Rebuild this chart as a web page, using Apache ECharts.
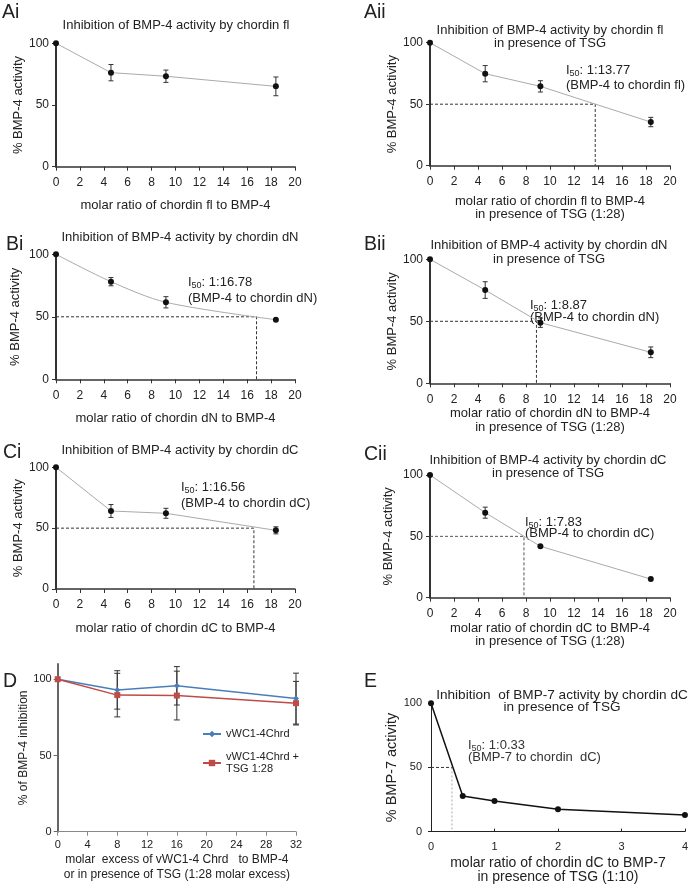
<!DOCTYPE html>
<html><head><meta charset="utf-8">
<script src="https://cdn.jsdelivr.net/npm/echarts@6/dist/echarts.min.js"></script>
<style>html,body{margin:0;padding:0;background:#fff}#c{width:691px;height:893px}</style>
</head><body><div id="c"></div>
<script>
// ---------- data ----------
const ratios = [0, 4.6, 9.2, 18.4];
const aiValues = [100, 76.2, 73.3, 65.1];
const aiErrors = [0, 6.6, 5.0, 7.6];
const aiiValues = [100, 74.8, 64.5, 35.5];
const aiiErrors = [0, 6.6, 4.6, 3.8];
const aiiI50 = 13.77;
const biValues = [100, 78.1, 61.6, 47.7];
const biErrors = [0, 3.3, 4.5, 0];
const biI50 = 16.78;
const biiValues = [100, 75.2, 48.9, 25.0];
const biiErrors = [0, 6.7, 3.8, 4.3];
const biiI50 = 8.87;
const ciValues = [100, 64.1, 62.2, 48.2];
const ciErrors = [0, 5.3, 4.1, 2.9];
const ciI50 = 16.56;
const ciiValues = [100, 69.3, 41.9, 15.2];
const ciiErrors = [0, 4.5, 0, 0];
const ciiI50 = 7.83;
const dExcess = [0, 8, 16, 32];
const dChrd = [100, 93.0, 95.7, 87.3];
const dChrdErr = [0, 12.6, 12.6, 16.7];
const dChrdTsg = [100, 89.6, 89.3, 84.3];
const dChrdTsgErr = [0, 14.3, 16.0, 14.3];
const eRatios = [0, 0.5, 1, 2, 4];
const eValues = [100, 27.8, 23.9, 17.4, 13.0];
const eI50 = 0.33;
const ratioTicks = [0, 2, 4, 6, 8, 10, 12, 14, 16, 18, 20];
const activityTicks = [0, 50, 100];
const excessTicks = [0, 4, 8, 12, 16, 20, 24, 28, 32];
const eTicks = [0, 1, 2, 3, 4];

// ---------- helpers ----------
const FF = "'Liberation Sans', Arial, sans-serif";
const TXT = '#222';
const pts = (xs, ys) => xs.map((x, i) => [x, ys[i]]);
const errPts = (xs, ys, es) => xs.map((x, i) => [x, ys[i], es[i]]).filter(d => d[2] > 0);

function errSeries(gi, data, color, capW) {
  return {
    type: 'custom', xAxisIndex: gi, yAxisIndex: gi, z: 2, silent: true,
    encode: { x: 0, y: 1 },
    data: data,
    renderItem: function (params, api) {
      const x = api.value(0), y = api.value(1), e = api.value(2);
      const t = api.coord([x, y + e]), b = api.coord([x, y - e]);
      const st = { stroke: color, lineWidth: 1 };
      return { type: 'group', children: [
        { type: 'line', shape: { x1: t[0], y1: t[1], x2: b[0], y2: b[1] }, style: st },
        { type: 'line', shape: { x1: t[0] - capW, y1: t[1], x2: t[0] + capW, y2: t[1] }, style: st },
        { type: 'line', shape: { x1: b[0] - capW, y1: b[1], x2: b[0] + capW, y2: b[1] }, style: st }
      ] };
    }
  };
}
function mainLine(gi, data, smooth) {
  return {
    type: 'line', xAxisIndex: gi, yAxisIndex: gi, data: data, z: 3,
    symbol: 'circle', symbolSize: 6, smooth: smooth || false,
    itemStyle: { color: '#111' }, lineStyle: { color: '#aaa', width: 1 },
    animation: false
  };
}
function i50Series(gi, x50, color) {
  return {
    type: 'line', xAxisIndex: gi, yAxisIndex: gi, z: 1, symbol: 'none',
    data: [[0, 50], [x50, 50], [x50, 0]],
    lineStyle: { color: color || '#333', width: 1, type: [3, 2] }, animation: false
  };
}
function xAxisA(gi, name, gap) {
  return {
    type: 'value', gridIndex: gi, min: ratioTicks[0], max: ratioTicks[ratioTicks.length - 1],
    interval: ratioTicks[1] - ratioTicks[0],
    axisLine: { show: true, lineStyle: { color: '#333', width: 1.5 } },
    axisTick: { show: true, length: 4, lineStyle: { color: '#333', width: 1 } },
    axisLabel: { fontSize: 12, color: TXT, margin: 10, fontFamily: FF },
    splitLine: { show: false },
    name: name, nameLocation: 'middle', nameGap: gap,
    nameTextStyle: { fontSize: 13, color: TXT, lineHeight: 13.5, fontFamily: FF }
  };
}
function yAxisA(gi, name, gap) {
  return {
    type: 'value', gridIndex: gi, min: activityTicks[0], max: activityTicks[activityTicks.length - 1],
    interval: activityTicks[1] - activityTicks[0],
    axisLine: { show: true, lineStyle: { color: '#333', width: 2 } },
    axisTick: { show: true, length: 4, lineStyle: { color: '#333', width: 1 } },
    axisLabel: { fontSize: 12, color: TXT, margin: 7, fontFamily: FF },
    splitLine: { show: false },
    name: name, nameLocation: 'middle', nameGap: gap,
    nameTextStyle: { fontSize: 13, color: TXT, fontFamily: FF }
  };
}
function txt(x, y, text, opt) {
  opt = opt || {};
  return {
    type: 'text', x: x, y: y, silent: true,
    style: {
      text: text, fill: opt.fill || TXT,
      font: (opt.size || 13) + 'px ' + FF,
      textAlign: opt.align || 'left', textVerticalAlign: opt.va || 'middle',
      lineHeight: opt.lh || 14
    }
  };
}
// I50 annotation: first line (with subscript) centred at y1, second line centred at y2
function i50Text(x, y1, y2, val, second, fill) {
  const f = fill || TXT;
  return [
    {
      type: 'text', x: x, y: y1, silent: true,
      style: {
        text: '{a|I}{s|50}{a|: ' + val + '}',
        textAlign: 'left', textVerticalAlign: 'middle',
        rich: {
          a: { font: '13px ' + FF, fill: f, lineHeight: 16 },
          s: { font: '9px ' + FF, fill: f, lineHeight: 16, verticalAlign: 'bottom' }
        }
      }
    },
    txt(x, y2, second, { fill: f })
  ];
}

const grids = [
  { left: 56, top: 43.3, width: 239, height: 123.4 },
  { left: 430, top: 42.7, width: 240, height: 123 },
  { left: 56, top: 254.3, width: 239, height: 125 },
  { left: 430, top: 259.3, width: 240, height: 124 },
  { left: 56, top: 467.3, width: 239, height: 121.7 },
  { left: 430, top: 475, width: 240, height: 122.7 },
  { left: 57.7, top: 664, width: 238.3, height: 167.7 },
  { left: 431, top: 703.3, width: 254.7, height: 128.3 }
];

const xAxes = [
  xAxisA(0, 'molar ratio of chordin fl to BMP-4', 31.5),
  xAxisA(1, 'molar ratio of chordin fl to BMP-4\nin presence of TSG (1:28)', 28.5),
  xAxisA(2, 'molar ratio of chordin dN to BMP-4', 32),
  xAxisA(3, 'molar ratio of chordin dN to BMP-4\nin presence of TSG (1:28)', 23.5),
  xAxisA(4, 'molar ratio of chordin dC to BMP-4', 32.5),
  xAxisA(5, 'molar ratio of chordin dC to BMP-4\nin presence of TSG (1:28)', 23.5),
  {
    type: 'value', gridIndex: 6, min: excessTicks[0], max: excessTicks[excessTicks.length - 1],
    interval: excessTicks[1] - excessTicks[0],
    axisLine: { show: true, lineStyle: { color: '#888', width: 1 } },
    axisTick: { show: true, length: 4, lineStyle: { color: '#888' } },
    axisLabel: { fontSize: 11, color: TXT, margin: 8, fontFamily: FF },
    splitLine: { show: false },
    name: 'molar  excess of vWC1-4 Chrd   to BMP-4\nor in presence of TSG (1:28 molar excess)',
    nameLocation: 'middle', nameGap: 20,
    nameTextStyle: { fontSize: 12, color: TXT, lineHeight: 15, fontFamily: FF }
  },
  {
    type: 'value', gridIndex: 7, min: eTicks[0], max: eTicks[eTicks.length - 1],
    interval: eTicks[1] - eTicks[0],
    axisLine: { show: true, lineStyle: { color: '#222', width: 1 } },
    axisTick: { show: true, inside: true, length: 3, lineStyle: { color: '#222' } },
    axisLabel: { fontSize: 11, color: TXT, margin: 10, fontFamily: FF },
    splitLine: { show: false },
    name: 'molar ratio of chordin dC to BMP-7\nin presence of TSG (1:10)',
    nameLocation: 'middle', nameGap: 25,
    nameTextStyle: { fontSize: 14, color: TXT, lineHeight: 14, fontFamily: FF }
  }
];
const yAxes = [
  yAxisA(0, '% BMP-4 activity', 29),
  yAxisA(1, '% BMP-4 activity', 31.5),
  yAxisA(2, '% BMP-4 activity', 34),
  yAxisA(3, '% BMP-4 activity', 27.5),
  yAxisA(4, '% BMP-4 activity', 29),
  yAxisA(5, '% BMP-4 activity', 35),
  {
    type: 'value', gridIndex: 6, min: 0, max: 110, interval: 50,
    axisLine: { show: true, lineStyle: { color: '#666', width: 2 } },
    axisTick: { show: true, length: 4, lineStyle: { color: '#666' }, customValues: activityTicks },
    axisLabel: { fontSize: 11, color: TXT, margin: 6, fontFamily: FF, customValues: activityTicks },
    splitLine: { show: false },
    name: '% of BMP-4 inhibition', nameLocation: 'middle', nameGap: 25,
    nameTextStyle: { fontSize: 12, color: TXT, fontFamily: FF }
  },
  {
    type: 'value', gridIndex: 7, min: activityTicks[0], max: activityTicks[2], interval: 50,
    axisLine: { show: true, lineStyle: { color: '#222', width: 1 } },
    axisTick: { show: true, length: 3, lineStyle: { color: '#222' } },
    axisLabel: { fontSize: 11, color: TXT, margin: 9, fontFamily: FF },
    splitLine: { show: false },
    name: '% BMP-7 activity', nameLocation: 'middle', nameGap: 25,
    nameTextStyle: { fontSize: 14.5, color: TXT, fontFamily: FF }
  }
];

const series = [
  errSeries(0, errPts(ratios, aiValues, aiErrors), '#333', 2.5),
  mainLine(0, pts(ratios, aiValues)),

  i50Series(1, aiiI50),
  errSeries(1, errPts(ratios, aiiValues, aiiErrors), '#333', 2.5),
  mainLine(1, pts(ratios, aiiValues)),

  i50Series(2, biI50),
  errSeries(2, errPts(ratios, biValues, biErrors), '#333', 2.5),
  mainLine(2, pts(ratios, biValues), 0.3),

  i50Series(3, biiI50),
  errSeries(3, errPts(ratios, biiValues, biiErrors), '#333', 2.5),
  mainLine(3, pts(ratios, biiValues)),

  i50Series(4, ciI50),
  errSeries(4, errPts(ratios, ciValues, ciErrors), '#333', 2.5),
  mainLine(4, pts(ratios, ciValues)),

  i50Series(5, ciiI50, '#555'),
  errSeries(5, errPts(ratios, ciiValues, ciiErrors), '#333', 2.5),
  mainLine(5, pts(ratios, ciiValues)),

  errSeries(6, errPts(dExcess, dChrd, dChrdErr), '#333', 3),
  errSeries(6, errPts(dExcess, dChrdTsg, dChrdTsgErr), '#333', 3),
  {
    name: 'vWC1-4Chrd', type: 'line', xAxisIndex: 6, yAxisIndex: 6, z: 3,
    data: pts(dExcess, dChrd), symbol: 'diamond', symbolSize: 6,
    itemStyle: { color: '#4a7ebb' }, lineStyle: { color: '#4a7ebb', width: 1.5 }, animation: false
  },
  {
    name: 'vWC1-4Chrd +\nTSG 1:28', type: 'line', xAxisIndex: 6, yAxisIndex: 6, z: 3,
    data: pts(dExcess, dChrdTsg), symbol: 'rect', symbolSize: 6,
    itemStyle: { color: '#be4b48' }, lineStyle: { color: '#be4b48', width: 1.5 }, animation: false
  },

  {
    type: 'line', xAxisIndex: 7, yAxisIndex: 7, z: 1, symbol: 'none',
    data: [[0, 50], [eI50, 50]], lineStyle: { color: '#333', width: 1, type: [3, 2] }, animation: false
  },
  {
    type: 'line', xAxisIndex: 7, yAxisIndex: 7, z: 1, symbol: 'none',
    data: [[eI50, 50], [eI50, 0]], lineStyle: { color: '#aaa', width: 1, type: [2, 2] }, animation: false
  },
  {
    type: 'line', xAxisIndex: 7, yAxisIndex: 7, z: 3, data: pts(eRatios, eValues),
    symbol: 'circle', symbolSize: 6, itemStyle: { color: '#111' },
    lineStyle: { color: '#111', width: 1.5 }, animation: false
  }
];

let graphics = [
  // panel labels
  txt(2, 13, 'Ai', { size: 19.5 }),
  txt(364, 13, 'Aii', { size: 19.5 }),
  txt(6, 245, 'Bi', { size: 19.5 }),
  txt(364, 245, 'Bii', { size: 19.5 }),
  txt(3, 453, 'Ci', { size: 19.5 }),
  txt(364, 455, 'Cii', { size: 19.5 }),
  txt(3, 682, 'D', { size: 19.5 }),
  txt(364, 682, 'E', { size: 19.5 }),
  // titles
  txt(176, 25, 'Inhibition of BMP-4 activity by chordin fl', { align: 'center' }),
  txt(550, 30, 'Inhibition of BMP-4 activity by chordin fl\nin presence of TSG', { align: 'center', va: 'top', lh: 13 }),
  txt(180, 237, 'Inhibition of BMP-4 activity by chordin dN', { align: 'center' }),
  txt(549, 245, 'Inhibition of BMP-4 activity by chordin dN\nin presence of TSG', { align: 'center', va: 'top', lh: 14 }),
  txt(180, 450, 'Inhibition of BMP-4 activity by chordin dC', { align: 'center' }),
  txt(548, 460, 'Inhibition of BMP-4 activity by chordin dC\nin presence of TSG', { align: 'center', va: 'top', lh: 13 }),
  txt(562, 695, 'Inhibition  of BMP-7 activity by chordin dC\nin presence of TSG', { align: 'center', va: 'top', lh: 12, size: 13.6 })
];
// multiline titles are top-aligned: shift so y is the first line centre
graphics.forEach(g => { if (g.style.textVerticalAlign === 'top') g.y -= g.style.lineHeight / 2; });
graphics = graphics.concat(
  i50Text(566, 70, 85, '1:13.77', '(BMP-4 to chordin fl)'),
  i50Text(188, 282, 298, '1:16.78', '(BMP-4 to chordin dN)'),
  i50Text(530, 305, 317, '1:8.87', '(BMP-4 to chordin dN)'),
  i50Text(181, 487, 503, '1:16.56', '(BMP-4 to chordin dC)'),
  i50Text(525, 522, 533, '1:7.83', '(BMP-4 to chordin dC)'),
  i50Text(468, 745, 757, '1:0.33', '(BMP-7 to chordin  dC)', '#333')
);

const chart = echarts.init(document.getElementById('c'), null, { renderer: 'canvas' });
chart.setOption({
  animation: false,
  backgroundColor: '#fff',
  grid: grids,
  xAxis: xAxes,
  yAxis: yAxes,
  series: series,
  legend: {
    data: ['vWC1-4Chrd', 'vWC1-4Chrd +\nTSG 1:28'],
    orient: 'vertical', left: 197, top: 723, itemWidth: 18, itemHeight: 8, itemGap: 11,
    textStyle: { fontSize: 11, color: TXT, lineHeight: 12, fontFamily: FF },
    selectedMode: false
  },
  graphic: graphics
});
</script></body></html>
